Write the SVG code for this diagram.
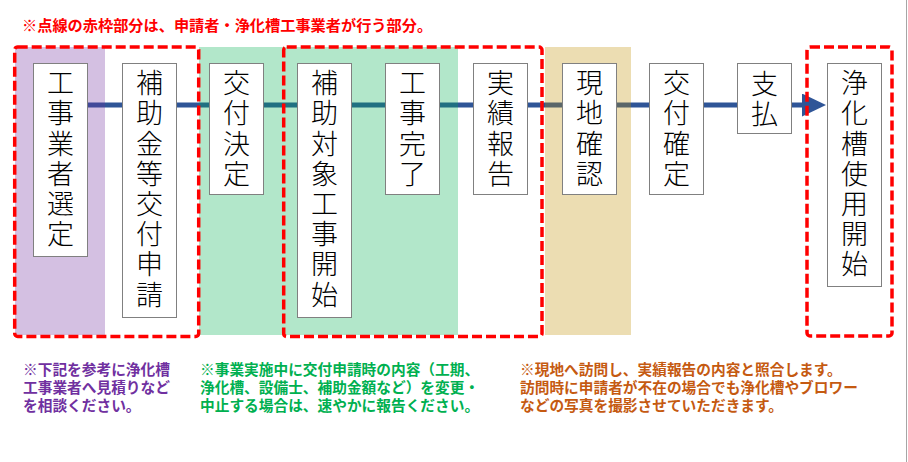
<svg xmlns="http://www.w3.org/2000/svg" width="908" height="462" viewBox="0 0 908 462">
<style>
.band{opacity:0.3}
.node rect{fill:#fff;stroke:#808080;stroke-width:1}
.node text{font-family:"Noto Sans CJK JP","Noto Sans CJK SC",sans-serif;font-size:27px;font-weight:300;fill:#000;writing-mode:vertical-rl;text-orientation:upright;letter-spacing:3.2px}
.conn{stroke:#2f5597;stroke-width:5;fill:none}
.dash{fill:none;stroke:#ff0000;stroke-width:3.5;stroke-dasharray:10 4}
.note{font-family:"Noto Sans CJK JP","Noto Sans CJK SC",sans-serif;font-size:14.7px;font-weight:bold}
</style>
<defs>
<marker id="ah" markerUnits="userSpaceOnUse" markerWidth="24" markerHeight="23" refX="0" refY="11.5" orient="auto" viewBox="0 0 24 23">
<path d="M0,0 L24,11.5 L0,23 Z" fill="#2f5597"/>
</marker>
</defs>
<rect width="908" height="462" fill="#fff"/>
<line x1="906.5" y1="0" x2="906.5" y2="462" stroke="#a6a6a6" stroke-width="1"/>
<text class="note" x="22" y="30.5" fill="#ff0000" style="font-size:15.2px">※点線の赤枠部分は、申請者・浄化槽工事業者が行う部分。</text>
<g id="connectors">
<line class="conn" x1="88" y1="105" x2="122" y2="105"/>
<line class="conn" x1="176" y1="105" x2="209" y2="105"/>
<line class="conn" x1="264" y1="105" x2="297" y2="105"/>
<line class="conn" x1="352" y1="105" x2="385" y2="105"/>
<line class="conn" x1="440" y1="105" x2="473" y2="105"/>
<line class="conn" x1="528" y1="105" x2="562" y2="105"/>
<line class="conn" x1="617" y1="105" x2="649" y2="105"/>
<line class="conn" x1="704" y1="105" x2="737" y2="105"/>
<line class="conn" x1="792" y1="105" x2="802" y2="105" marker-end="url(#ah)"/>
</g>
<g id="bands">
<rect class="band" x="15" y="47" width="90" height="288" fill="#7030a0"/>
<rect class="band" x="199" y="47" width="259" height="288" fill="#00b050"/>
<rect class="band" x="545" y="47" width="86" height="288" fill="#bf9000"/>
</g>
<g id="n1" class="node"><rect x="33.5" y="63.5" width="54" height="193"/><text x="60.5" y="69.5">工事業者選定</text></g>
<g id="n2" class="node"><rect x="122.5" y="63.5" width="54" height="254"/><text x="149.5" y="69.5">補助金等交付申請</text></g>
<g id="n3" class="node"><rect x="209.5" y="63.5" width="54" height="131"/><text x="236.5" y="69.5">交付決定</text></g>
<g id="n4" class="node"><rect x="297.5" y="63.5" width="54" height="254"/><text x="324.5" y="69.5">補助対象工事開始</text></g>
<g id="n5" class="node"><rect x="385.5" y="63.5" width="54" height="131"/><text x="412.5" y="69.5">工事完了</text></g>
<g id="n6" class="node"><rect x="473.5" y="63.5" width="54" height="131"/><text x="500.5" y="69.5">実績報告</text></g>
<g id="n7" class="node"><rect x="562.5" y="63.5" width="54" height="131"/><text x="589.5" y="69.5">現地確認</text></g>
<g id="n8" class="node"><rect x="649.5" y="63.5" width="54" height="131"/><text x="676.5" y="69.5">交付確定</text></g>
<g id="n9" class="node"><rect x="737.5" y="63.5" width="54" height="70"/><text x="764.5" y="70">支払</text></g>
<g id="n10" class="node"><rect x="827.5" y="63.5" width="54" height="223"/><text x="854.5" y="69.5">浄化槽使用開始</text></g>
<g id="applicant-frames">
<rect class="dash" x="14.7" y="47" width="184" height="289.5" rx="3"/>
<rect class="dash" x="283.7" y="47" width="258.3" height="289.5" rx="3"/>
<rect class="dash" x="807" y="47" width="85" height="289" rx="3"/>
</g>
<g id="notes">
<text class="note" fill="#7030a0"><tspan x="23" y="375">※下記を参考に浄化槽</tspan><tspan x="23" y="393">工事業者へ見積りなど</tspan><tspan x="23" y="410.5">を相談ください。</tspan></text>
<text class="note" fill="#00b050"><tspan x="200" y="375">※事業実施中に交付申請時の内容（工期、</tspan><tspan x="200" y="393">浄化槽、設備士、補助金額など）を変更・</tspan><tspan x="200" y="410.5">中止する場合は、速やかに報告ください。</tspan></text>
<text class="note" fill="#c55a11"><tspan x="520" y="375">※現地へ訪問し、実績報告の内容と照合します。</tspan><tspan x="520" y="393">訪問時に申請者が不在の場合でも浄化槽やブロワー</tspan><tspan x="520" y="410.5">などの写真を撮影させていただきます。</tspan></text>
</g>
</svg>
